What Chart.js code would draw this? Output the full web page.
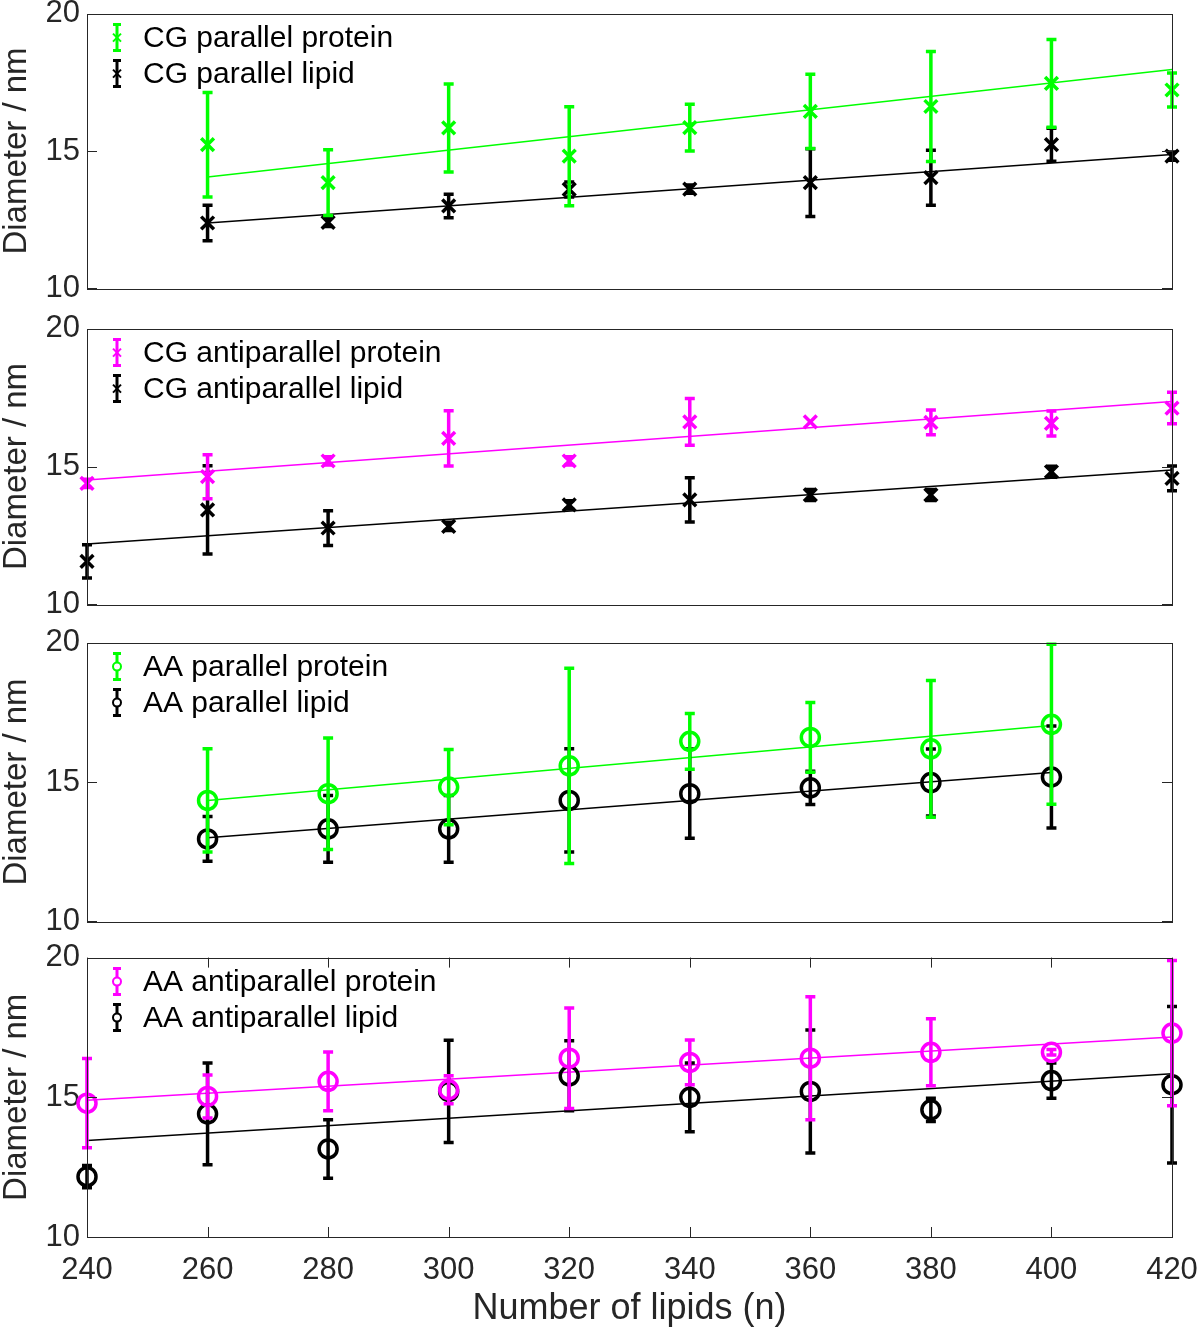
<!DOCTYPE html>
<html>
<head>
<meta charset="utf-8">
<script src="https://cdn.jsdelivr.net/npm/chart.js@4.4.1/dist/chart.umd.min.js"></script>
<style>
  html, body { margin: 0; padding: 0; background: #fff; }
  body { width: 1200px; height: 1331px; position: relative; overflow: hidden; }
  canvas { position: absolute; left: 0; }
</style>
</head>
<body>
<canvas id="p1" width="1240" height="326" style="top:-12px"></canvas>
<canvas id="p2" width="1240" height="327" style="top:303px"></canvas>
<canvas id="p3" width="1240" height="330" style="top:617px"></canvas>
<canvas id="p4" width="1240" height="399" style="top:932px"></canvas>
<script>
// eje x compartido
const lipidTicks = [240, 260, 280, 300, 320, 340, 360, 380, 400, 420];
const yTicks = [10, 15, 20];

// panel 1: CG parallel
const cgParX = [260, 280, 300, 320, 340, 360, 380, 400, 420];
const cgParProtein = [15.23, 13.85, 15.84, 14.81, 15.85, 16.44, 16.62, 17.46, 17.22];
const cgParProteinErr = [1.9, 1.2, 1.6, 1.8, 0.85, 1.35, 2.0, 1.6, 0.62];
const cgParLipid = [12.38, 12.4, 13.0, 13.6, 13.61, 13.85, 14.03, 15.23, 14.81];
const cgParLipidErr = [0.65, 0.15, 0.43, 0.27, 0.15, 1.23, 1.0, 0.6, 0.15];
const cgParProteinFit = [14.05, 17.97];
const cgParLipidFit = [12.38, 14.87];
const cgParFitX = [260, 420];

// panel 2: CG antiparallel
const cgAntiX = [240, 260, 280, 300, 320, 340, 360, 380, 400, 420];
const cgAntiProtein = [14.39, 14.63, 15.2, 16.02, 15.2, 16.62, 16.62, 16.6, 16.56, 17.12];
const cgAntiProteinErr = [0.15, 0.8, 0.15, 1.0, 0.15, 0.85, 0, 0.45, 0.45, 0.57];
const cgAntiLipid = [11.56, 13.43, 12.77, 12.83, 13.61, 13.79, 13.97, 13.97, 14.81, 14.57];
const cgAntiLipidErr = [0.6, 1.6, 0.63, 0.15, 0.15, 0.8, 0.2, 0.2, 0.2, 0.45];
const cgAntiProteinFit = [14.51, 17.36];
const cgAntiLipidFit = [12.19, 14.87];
const cgAntiFitX = [240, 420];

// panel 3: AA parallel
const aaParX = [260, 280, 300, 320, 340, 360, 380, 400];
const aaParProtein = [14.34, 14.58, 14.82, 15.58, 16.46, 16.6, 16.19, 17.07];
const aaParProteinErr = [1.85, 2.0, 1.35, 3.5, 1.0, 1.25, 2.45, 2.87];
const aaParLipid = [12.96, 13.32, 13.32, 14.34, 14.58, 14.79, 14.98, 15.18];
const aaParLipidErr = [0.8, 1.2, 1.2, 1.85, 1.6, 0.6, 1.2, 1.83];
const aaParProteinFit = [14.34, 17.03];
const aaParLipidFit = [13.0, 15.34];
const aaParFitX = [260, 400];

// panel 4: AA antiparallel
const aaAntiX = [240, 260, 280, 300, 320, 340, 360, 380, 400, 420];
const aaAntiProtein = [14.79, 15.03, 15.57, 15.27, 16.4, 16.25, 16.4, 16.61, 16.61, 17.3];
const aaAntiProteinErr = [1.6, 0.77, 1.05, 0.5, 1.8, 0.8, 2.2, 1.2, 0.1, 2.6];
const aaAntiLipid = [12.16, 14.41, 13.15, 15.21, 15.77, 15.0, 15.21, 14.55, 15.6, 15.45];
const aaAntiLipidErr = [0.4, 1.82, 1.05, 1.83, 1.25, 1.23, 2.2, 0.42, 0.63, 2.8];
const aaAntiProteinFit = [14.89, 17.16];
const aaAntiLipidFit = [13.45, 15.84];
const aaAntiFitX = [240, 420];

const FONT = "'Liberation Sans', Helvetica, Arial, sans-serif";
const AXIS = '#262626';
const GREEN = '#00ff00';
const MAGENTA = '#ff00ff';
const BLACK = '#000000';

const pts = (xs, ys) => xs.map((x, i) => ({x, y: ys[i]}));

// barras de error dibujadas antes de los marcadores de cada dataset
const errorBars = {
  id: 'errorBars',
  beforeDatasetDraw(chart, args) {
    const ds = chart.data.datasets[args.index];
    if (!ds.errors) return;
    const sx = chart.scales.x, sy = chart.scales.y, ctx = chart.ctx;
    ctx.save();
    ctx.strokeStyle = ds.borderColor;
    ctx.lineWidth = 3.5;
    ds.data.forEach((p, i) => {
      const e = ds.errors[i];
      if (!e) return;
      const px = sx.getPixelForValue(p.x);
      const top = sy.getPixelForValue(p.y + e);
      const bot = sy.getPixelForValue(p.y - e);
      ctx.beginPath();
      ctx.moveTo(px, top); ctx.lineTo(px, bot);
      ctx.moveTo(px - 5, top); ctx.lineTo(px + 5, top);
      ctx.moveTo(px - 5, bot); ctx.lineTo(px + 5, bot);
      ctx.stroke();
    });
    ctx.restore();
  }
};

// caja tipo MATLAB con ticks hacia adentro + leyenda dentro del área
const boxAndLegend = {
  id: 'boxAndLegend',
  afterDraw(chart, args, opts) {
    const {ctx, chartArea: a} = chart;
    const sx = chart.scales.x, sy = chart.scales.y;
    ctx.save();
    ctx.strokeStyle = AXIS;
    ctx.lineWidth = 1;
    ctx.strokeRect(Math.round(a.left) + 0.5, Math.round(a.top) + 0.5,
      Math.round(a.right - a.left), Math.round(a.bottom - a.top));
    ctx.beginPath();
    yTicks.forEach(v => {
      const py = Math.round(sy.getPixelForValue(v)) + 0.5;
      ctx.moveTo(a.left, py); ctx.lineTo(a.left + 10, py);
      ctx.moveTo(a.right, py); ctx.lineTo(a.right - 10, py);
    });
    if (opts.xTicks) {
      lipidTicks.forEach(v => {
        const px = Math.round(sx.getPixelForValue(v)) + 0.5;
        ctx.moveTo(px, a.bottom); ctx.lineTo(px, a.bottom - 10);
        ctx.moveTo(px, a.top); ctx.lineTo(px, a.top + 10);
      });
    }
    ctx.stroke();

    // leyenda
    const items = chart.data.datasets.filter(d => d.legendText);
    items.forEach((d, i) => {
      const cy = a.top + 24 + i * 36;
      const ix = a.left + 30;
      ctx.strokeStyle = d.borderColor;
      ctx.lineWidth = 3;
      ctx.beginPath();
      ctx.moveTo(ix, cy - 13); ctx.lineTo(ix, cy + 13);
      ctx.moveTo(ix - 4, cy - 13); ctx.lineTo(ix + 4, cy - 13);
      ctx.moveTo(ix - 4, cy + 13); ctx.lineTo(ix + 4, cy + 13);
      ctx.stroke();
      ctx.lineWidth = 2;
      ctx.beginPath();
      if (d.pointStyle === 'circle') {
        ctx.fillStyle = '#fff';
        ctx.arc(ix, cy, 4, 0, Math.PI * 2);
        ctx.fill();
      } else {
        ctx.moveTo(ix - 4, cy - 4); ctx.lineTo(ix + 4, cy + 4);
        ctx.moveTo(ix + 4, cy - 4); ctx.lineTo(ix - 4, cy + 4);
      }
      ctx.stroke();
      ctx.fillStyle = '#000';
      ctx.font = '30px ' + FONT;
      ctx.textBaseline = 'middle';
      ctx.fillText(d.legendText, a.left + 56, cy + 1);
    });
    ctx.restore();
  }
};

function panel(id, cfg) {
  const marker = cfg.marker;
  const radius = marker === 'circle' ? 9 : 9;
  const scatter = (label, xs, ys, errs, color) => ({
    legendText: label,
    data: pts(xs, ys),
    errors: errs,
    showLine: false,
    pointStyle: marker,
    pointRadius: radius,
    pointBorderWidth: 3.5,
    borderColor: color,
    pointBorderColor: color,
    backgroundColor: 'rgba(0,0,0,0)',
    pointBackgroundColor: 'rgba(0,0,0,0)',
    clip: false
  });
  const fit = (xs, ys, color) => ({
    data: pts(xs, ys),
    showLine: true,
    borderColor: color,
    borderWidth: 1.5,
    pointRadius: 0,
    fill: false
  });
  const bottom = cfg.bottom;
  return new Chart(document.getElementById(id), {
    type: 'scatter',
    data: {
      datasets: [
        scatter(cfg.labels[0], cfg.x, cfg.protein, cfg.proteinErr, cfg.color),
        scatter(cfg.labels[1], cfg.x, cfg.lipid, cfg.lipidErr, BLACK),
        fit(cfg.fitX, cfg.proteinFit, cfg.color),
        fit(cfg.fitX, cfg.lipidFit, BLACK)
      ]
    },
    options: {
      responsive: false,
      animation: false,
      events: [],
      layout: { padding: { left: 0, right: 68, top: 25, bottom: bottom ? 0 : 25 } },
      plugins: {
        legend: { display: false },
        tooltip: { enabled: false },
        boxAndLegend: { xTicks: bottom }
      },
      scales: {
        x: {
          type: 'linear',
          min: 240, max: 420,
          display: bottom,
          afterFit: s => { if (bottom) s.height = 94; },
          grid: { display: false, drawTicks: false },
          border: { display: false },
          ticks: {
            stepSize: 20, padding: 15, color: AXIS,
            font: { family: FONT, size: 31 }
          },
          title: {
            display: true, text: 'Number of lipids (n)', color: AXIS,
            font: { family: FONT, size: 36 }, padding: { top: 0, bottom: 0 }
          }
        },
        y: {
          min: 10, max: 20,
          afterFit: s => { s.width = 87; },
          afterBuildTicks: s => { s.ticks = yTicks.map(v => ({value: v})); },
          grid: { display: false, drawTicks: false },
          border: { display: false },
          ticks: {
            padding: 7, color: AXIS,
            font: { family: FONT, size: 31 }
          },
          title: {
            display: true, text: 'Diameter / nm', color: AXIS,
            font: { family: FONT, size: 33, lineHeight: 1.05 }, padding: 0
          }
        }
      }
    },
    plugins: [errorBars, boxAndLegend]
  });
}

panel('p1', {
  marker: 'crossRot', color: GREEN, bottom: false,
  labels: ['CG parallel protein', 'CG parallel lipid'],
  x: cgParX, protein: cgParProtein, proteinErr: cgParProteinErr,
  lipid: cgParLipid, lipidErr: cgParLipidErr,
  fitX: cgParFitX, proteinFit: cgParProteinFit, lipidFit: cgParLipidFit
});
panel('p2', {
  marker: 'crossRot', color: MAGENTA, bottom: false,
  labels: ['CG antiparallel protein', 'CG antiparallel lipid'],
  x: cgAntiX, protein: cgAntiProtein, proteinErr: cgAntiProteinErr,
  lipid: cgAntiLipid, lipidErr: cgAntiLipidErr,
  fitX: cgAntiFitX, proteinFit: cgAntiProteinFit, lipidFit: cgAntiLipidFit
});
panel('p3', {
  marker: 'circle', color: GREEN, bottom: false,
  labels: ['AA parallel protein', 'AA parallel lipid'],
  x: aaParX, protein: aaParProtein, proteinErr: aaParProteinErr,
  lipid: aaParLipid, lipidErr: aaParLipidErr,
  fitX: aaParFitX, proteinFit: aaParProteinFit, lipidFit: aaParLipidFit
});
panel('p4', {
  marker: 'circle', color: MAGENTA, bottom: true,
  labels: ['AA antiparallel protein', 'AA antiparallel lipid'],
  x: aaAntiX, protein: aaAntiProtein, proteinErr: aaAntiProteinErr,
  lipid: aaAntiLipid, lipidErr: aaAntiLipidErr,
  fitX: aaAntiFitX, proteinFit: aaAntiProteinFit, lipidFit: aaAntiLipidFit
});
</script>
</body>
</html>
